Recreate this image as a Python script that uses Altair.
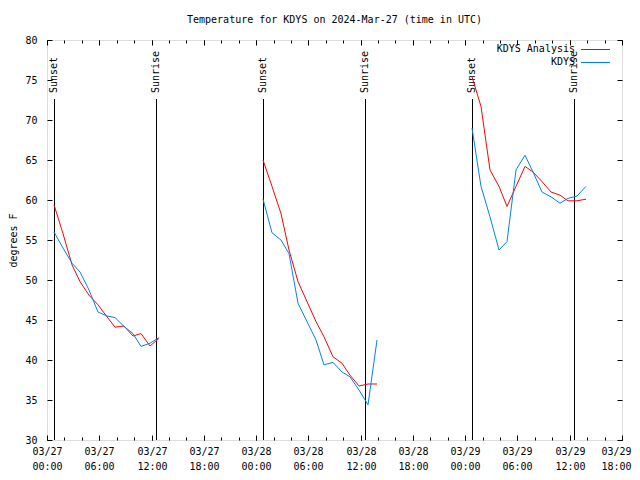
import altair as alt
import pandas as pd

FONT = "DejaVu Sans Mono"

# ---- data ----
days = ["2024-03-27", "2024-03-28", "2024-03-29"]
times_day1 = ["00:50", "01:50", "02:50", "03:50", "04:50", "05:50", "06:50",
              "07:50", "08:50", "09:50", "10:50", "11:50", "12:50"]
times_day2 = ["00:50", "01:50", "02:50", "03:50", "04:50", "05:50", "06:50",
              "07:50", "08:50", "09:50", "10:50", "11:50", "12:50", "13:50"]
times_day3 = ["00:50", "01:50", "02:50", "03:50", "04:50", "05:50", "06:50",
              "07:50", "08:50", "09:50", "10:50", "11:50", "12:50", "13:50"]

analysis_day1 = [59.4, 55.8, 51.9, 49.8, 48.1, 46.9, 45.4, 44.1, 44.25, 43.0, 43.3, 41.75, 42.7]
obs_day1 = [56.0, 54.0, 52.1, 51.0, 48.75, 46.0, 45.5, 45.3, 44.2, 43.3, 41.7, 42.1, 42.8]

analysis_day2 = [65.0, 61.7, 58.3, 53.75, 49.8, 47.3, 44.8, 42.9, 40.4, 39.6, 38.1, 36.75, 37.0, 37.0]
obs_day2 = [60.1, 55.9, 55.0, 53.3, 47.1, 44.8, 42.5, 39.4, 39.7, 38.5, 37.9, 36.25, 34.4, 42.5]

analysis_day3 = [75.4, 71.7, 63.75, 61.7, 59.2, 61.7, 64.2, 63.5, 62.3, 61.0, 60.6, 59.9, 59.9, 60.1]
obs_day3 = [69.0, 61.7, 57.9, 53.75, 54.8, 63.75, 65.6, 63.5, 61.0, 60.4, 59.6, 60.2, 60.5, 61.7]

sun_events = ["2024-03-27T00:45:00Z", "2024-03-27T12:31:00Z",
              "2024-03-28T00:46:00Z", "2024-03-28T12:30:00Z",
              "2024-03-29T00:47:00Z", "2024-03-29T12:29:00Z"]
sun_labels = ["Sunset", "Sunrise", "Sunset", "Sunrise", "Sunset", "Sunrise"]

major_tick_times = ["2024-03-27T00:00:00Z", "2024-03-27T06:00:00Z", "2024-03-27T12:00:00Z",
                    "2024-03-27T18:00:00Z", "2024-03-28T00:00:00Z", "2024-03-28T06:00:00Z",
                    "2024-03-28T12:00:00Z", "2024-03-28T18:00:00Z", "2024-03-29T00:00:00Z",
                    "2024-03-29T06:00:00Z", "2024-03-29T12:00:00Z", "2024-03-29T18:00:00Z"]
y_ticks = [30, 35, 40, 45, 50, 55, 60, 65, 70, 75, 80]

series_names = ["KDYS Analysis", "KDYS"]
series_colors = ["#ff0000", "#0080ff"]

TITLE = "Temperature for KDYS on 2024-Mar-27 (time in UTC)"

# ---- build tables ----
rows = []
for seg, (day, times, ana, obs) in enumerate([
        (days[0], times_day1, analysis_day1, obs_day1),
        (days[1], times_day2, analysis_day2, obs_day2),
        (days[2], times_day3, analysis_day3, obs_day3)]):
    for t, a, o in zip(times, ana, obs):
        ts = f"{day}T{t}:00Z"
        rows.append({"time": ts, "temp": a, "series": series_names[0], "seg": seg})
        rows.append({"time": ts, "temp": o, "series": series_names[1], "seg": seg})
df = pd.DataFrame(rows)
sun_df = pd.DataFrame({"time": sun_events, "label": sun_labels})


def ms(s):
    return int(pd.Timestamp(s).timestamp() * 1000)


major_ms = [ms(s) for s in major_tick_times]
minor_ms = [major_ms[0] + k * 2 * 3600 * 1000 for k in range(34)]

W, H = 575, 400
xscale = alt.Scale(type="utc", domain=[major_ms[0], major_ms[-1]], nice=False, round=True)
yscale = alt.Scale(domain=[y_ticks[0], y_ticks[-1]], nice=False, zero=False)
cscale = alt.Scale(domain=series_names, range=series_colors)
last_test = f"+datum.value >= {major_ms[-1]}"

lines = alt.Chart(df).mark_line(strokeWidth=1).encode(
    x=alt.X("time:T", scale=xscale, axis=alt.Axis(
        orient="bottom", values=major_ms, ticks=False, tickSize=0, domain=False, grid=False,
        title=None, labelExpr="[utcFormat(datum.value, '%m/%d'), utcFormat(datum.value, '%H:%M')]",
        labelFont=FONT, labelFontSize=10, labelColor="black", labelPadding=6,
        labelLineHeight=15, labelFlush=False, labelOverlap=False,
        labelAlign={"condition": {"test": last_test, "value": "right"}, "value": "center"},
        labelOffset={"condition": {"test": last_test, "value": 9}, "value": 0})),
    y=alt.Y("temp:Q", scale=yscale, axis=alt.Axis(
        orient="left", values=y_ticks, ticks=False, tickSize=0, domain=False, grid=False,
        title="degrees F", titleFont=FONT, titleFontSize=10, titleFontWeight="normal",
        titleColor="black", titleX=-34, titleY=H / 2, titleAngle=270, titleAlign="center",
        titleBaseline="middle", labelFont=FONT, labelFontSize=10, labelColor="black",
        labelPadding=10, labelFlush=False)),
    color=alt.Color("series:N", scale=cscale, legend=None),
    detail="seg:N",
)


def tick_layer(xaxis, yaxis):
    return alt.Chart(df).mark_point(opacity=0).encode(
        x=alt.X("time:T", scale=xscale, axis=xaxis),
        y=alt.Y("temp:Q", scale=yscale, axis=yaxis),
    )


def xticks(orient, values, size):
    return alt.Axis(orient=orient, offset=-H, values=values, tickSize=size, labels=False,
                    domain=False, grid=False, title=None, tickColor="black")


def yticks(orient, size):
    return alt.Axis(orient=orient, offset=-W, values=y_ticks, tickSize=size, labels=False,
                    domain=False, grid=False, title=None, tickColor="black")


t1 = tick_layer(xticks("top", major_ms, 5), yticks("right", 5))
t2 = tick_layer(xticks("top", minor_ms, 3), yticks("left", 5))
t3 = tick_layer(xticks("bottom", major_ms, 5), None)
t4 = tick_layer(xticks("bottom", minor_ms, 3), None)

sun_rules = alt.Chart(sun_df).mark_rule(color="black", strokeWidth=1, xOffset=0.5).encode(
    x=alt.X("time:T", scale=xscale, axis=None),
    y=alt.value(59), y2=alt.value(H),
)
sun_text = alt.Chart(sun_df).mark_text(
    angle=270, align="left", baseline="middle", font=FONT, fontSize=10, color="black"
).encode(
    x=alt.X("time:T", scale=xscale, axis=None),
    y=alt.value(53),
    text="label:N",
)

# key (gnuplot style: text on the left, line sample on the right)
key_layers = []
for i, name in enumerate(series_names):
    kdf = pd.DataFrame({"series": [name]})
    row_y = 9 + 13 * i
    key_layers.append(alt.Chart(kdf).mark_text(
        align="right", baseline="middle", font=FONT, fontSize=10, color="black"
    ).encode(text="series:N", x=alt.value(528), y=alt.value(row_y)))
    key_layers.append(alt.Chart(kdf).mark_rule(strokeWidth=1).encode(
        x=alt.value(534), x2=alt.value(563), y=alt.value(row_y + 0.5),
        color=alt.Color("series:N", scale=cscale, legend=None)))

chart = alt.layer(t1, t2, t3, t4, sun_rules, sun_text, lines, *key_layers).resolve_axis(
    x="independent", y="independent"
).properties(
    width=W, height=H,
    title=alt.TitleParams(TITLE, font=FONT, fontSize=10, fontWeight="normal", color="black",
                          anchor="middle", frame="group", offset=10),
    padding={"left": 39, "top": 32, "right": 10, "bottom": 32},
    autosize=alt.AutoSizeParams(type="none"),
).configure_view(stroke="black", strokeWidth=1).configure(background="white")

chart.save("out.html", embed_options={"renderer": "svg", "actions": False})
